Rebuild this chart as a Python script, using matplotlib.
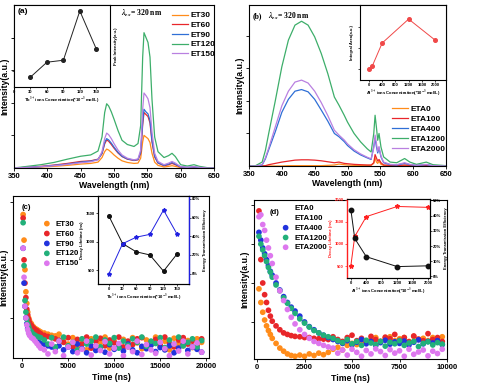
import numpy as np
import matplotlib.pyplot as plt

plt.rcParams['font.family'] = ['Liberation Sans', 'DejaVu Sans']
plt.rcParams['font.weight'] = 'bold'
plt.rcParams['axes.labelweight'] = 'bold'
plt.rcParams['mathtext.fontset'] = 'stix'

# ---------------- (a) emission spectra, Tb series ----------------
wl_a = [350, 370, 390, 410, 430, 450, 465, 476, 482, 486, 489, 492, 496, 500, 506, 512,
        520, 530, 536, 540, 543, 545, 548, 551, 554, 557, 561, 566, 575, 582, 587, 592,
        600, 610, 620, 628, 640, 650]
et30 = [0, 0.01, 0.03, 0.05, 0.08, 0.12, 0.14, 0.18, 0.32, 0.50, 0.58, 0.55, 0.48, 0.40, 0.30, 0.22,
        0.17, 0.14, 0.15, 0.30, 0.80, 1.00, 0.95, 0.90, 0.78, 0.45, 0.18, 0.08, 0.03, 0.05, 0.07, 0.05,
        0.01, 0, 0.01, 0, 0, 0]
et60 = [0, 0.02, 0.05, 0.09, 0.14, 0.20, 0.22, 0.27, 0.44, 0.74, 0.86, 0.82, 0.72, 0.61, 0.46, 0.35,
        0.27, 0.23, 0.25, 0.45, 1.32, 1.70, 1.64, 1.58, 1.38, 0.80, 0.34, 0.15, 0.07, 0.10, 0.14, 0.10,
        0.03, 0.01, 0.02, 0.01, 0, 0]
et90 = [0, 0.02, 0.04, 0.08, 0.12, 0.18, 0.21, 0.26, 0.45, 0.78, 0.90, 0.86, 0.76, 0.64, 0.48, 0.36,
        0.28, 0.24, 0.26, 0.48, 1.40, 1.80, 1.72, 1.66, 1.45, 0.85, 0.36, 0.16, 0.08, 0.12, 0.17, 0.12,
        0.03, 0.02, 0.03, 0.01, 0, 0]
et120 = [0, 0.05, 0.10, 0.17, 0.27, 0.36, 0.40, 0.52, 0.95, 1.70, 1.97, 1.90, 1.72, 1.50, 1.15, 0.85,
         0.72, 0.66, 0.75, 1.30, 3.40, 4.15, 4.00, 3.85, 3.40, 2.10, 0.95, 0.50, 0.32, 0.38, 0.45, 0.35,
         0.10, 0.06, 0.10, 0.05, 0.01, 0]
et150 = [0, 0.02, 0.04, 0.07, 0.11, 0.16, 0.19, 0.25, 0.50, 0.90, 1.07, 1.02, 0.90, 0.75, 0.55, 0.40,
         0.30, 0.25, 0.28, 0.55, 1.80, 2.30, 2.22, 2.12, 1.85, 1.10, 0.45, 0.20, 0.10, 0.15, 0.20, 0.15,
         0.04, 0.02, 0.04, 0.02, 0, 0]
labels_a = ['ET30', 'ET60', 'ET90', 'ET120', 'ET150']
tb_conc = [30, 60, 90, 120, 150]
tb_peak = [0.82, 1.27, 1.33, 2.82, 1.67]

# ---------------- (b) emission spectra, Al series ----------------
wl_b = [350, 360, 370, 375, 380, 390, 400, 410, 420, 430, 440, 450, 460, 470, 480, 487, 495,
        500, 510, 520, 530, 536, 540, 542, 544, 546, 548, 551, 555, 565, 575, 587, 595, 605,
        620, 630, 650]
eta0 = [0, 0, 0, 0, 0, 0, 0, 0.01, 0.01, 0.01, 0.01, 0.01, 0.01, 0.02, 0.03, 0.06, 0.04,
        0.03, 0.02, 0.02, 0.02, 0.02, 0.08, 0.25, 0.12, 0.08, 0.15, 0.05, 0.02, 0.01, 0.01, 0.02, 0.01, 0,
        0.01, 0, 0]
eta100 = [0, 0, 0, 0.01, 0.04, 0.08, 0.12, 0.15, 0.18, 0.19, 0.19, 0.18, 0.16, 0.13, 0.10, 0.12, 0.08,
          0.07, 0.05, 0.04, 0.03, 0.03, 0.10, 0.35, 0.25, 0.15, 0.20, 0.10, 0.03, 0.02, 0.01, 0.03, 0.02, 0.01,
          0.02, 0, 0]
eta400 = [0, 0, 0.03, 0.22, 0.50, 1.05, 1.65, 2.05, 2.30, 2.35, 2.28, 2.05, 1.72, 1.38, 1.00, 0.90, 0.75,
          0.63, 0.46, 0.34, 0.25, 0.20, 0.60, 0.85, 0.60, 0.40, 0.55, 0.28, 0.10, 0.04, 0.03, 0.08, 0.04, 0.02,
          0.04, 0.01, 0]
eta1200 = [0, 0.01, 0.12, 0.48, 1.00, 2.00, 3.05, 3.87, 4.33, 4.45, 4.33, 3.97, 3.46, 2.84, 2.12, 1.87, 1.56,
           1.35, 1.00, 0.74, 0.53, 0.43, 1.00, 1.56, 1.20, 0.79, 1.00, 0.58, 0.28, 0.12, 0.10, 0.23, 0.12, 0.05,
           0.12, 0.04, 0.01]
eta2000 = [0, 0, 0.04, 0.25, 0.55, 1.20, 1.85, 2.30, 2.58, 2.64, 2.55, 2.30, 1.95, 1.55, 1.10, 0.95, 0.80,
           0.68, 0.50, 0.37, 0.27, 0.22, 0.55, 0.95, 0.70, 0.45, 0.60, 0.30, 0.12, 0.05, 0.04, 0.10, 0.05, 0.02,
           0.05, 0.01, 0]
labels_b = ['ETA0', 'ETA100', 'ETA400', 'ETA1200', 'ETA2000']
al_conc = [0, 100, 400, 1200, 2000]
al_area = [1.0, 1.14, 2.24, 3.38, 2.38]

# ---------------- (c) decay curves, Tb series ----------------
t_c = [100, 200, 300, 400, 500, 600, 700, 800, 1000, 1200, 1400, 1600, 1800, 2000,
       2400, 2800, 3200, 3600, 4000, 4500, 5000, 5500, 6000, 6500, 7000, 7500, 8000,
       8500, 9000, 9500, 10000, 10500, 11000, 11500, 12000, 12500, 13000, 13500, 14000,
       14500, 15000, 15500, 16000, 16500, 17000, 17500, 18000, 18500, 19000, 19500]
dc_et30 = [2.78, 2.34, 1.83, 1.45, 1.25, 1.10, 1.00, 0.95, 0.90, 0.85, 0.82, 0.80, 0.78, 0.76,
           0.74, 0.72, 0.70, 0.69, 0.72, 0.62, 0.55, 0.66, 0.50, 0.60, 0.45, 0.64, 0.52,
           0.58, 0.67, 0.48, 0.60, 0.55, 0.63, 0.50, 0.66, 0.57, 0.47, 0.62, 0.54,
           0.67, 0.50, 0.60, 0.45, 0.65, 0.56, 0.52, 0.61, 0.49, 0.64, 0.58]
dc_et60 = [2.72, 2.00, 1.60, 1.35, 1.15, 1.05, 0.98, 0.92, 0.87, 0.83, 0.80, 0.78, 0.75, 0.73,
           0.70, 0.68, 0.66, 0.64, 0.62, 0.58, 0.66, 0.50, 0.63, 0.55, 0.67, 0.48, 0.60,
           0.65, 0.52, 0.62, 0.57, 0.67, 0.50, 0.60, 0.54, 0.64, 0.66, 0.49, 0.58,
           0.63, 0.53, 0.67, 0.56, 0.50, 0.62, 0.66, 0.55, 0.60, 0.52, 0.64]
dc_et90 = [2.20, 1.60, 1.20, 1.00, 0.90, 0.82, 0.77, 0.72, 0.68, 0.65, 0.62, 0.60, 0.58, 0.56,
           0.55, 0.52, 0.50, 0.48, 0.52, 0.45, 0.50, 0.42, 0.55, 0.47, 0.40, 0.52, 0.44,
           0.49, 0.41, 0.54, 0.46, 0.50, 0.43, 0.55, 0.45, 0.40, 0.51, 0.47, 0.53,
           0.42, 0.49, 0.45, 0.52, 0.40, 0.48, 0.54, 0.44, 0.50, 0.46, 0.41]
dc_et120 = [2.64, 1.90, 1.30, 1.10, 0.98, 0.90, 0.85, 0.80, 0.76, 0.72, 0.70, 0.68, 0.67, 0.66,
            0.62, 0.55, 0.66, 0.50, 0.60, 0.67, 0.52, 0.58, 0.45, 0.64, 0.55, 0.60, 0.67,
            0.50, 0.62, 0.56, 0.66, 0.48, 0.60, 0.53, 0.64, 0.58, 0.67, 0.51, 0.60,
            0.56, 0.66, 0.49, 0.62, 0.55, 0.67, 0.52, 0.58, 0.64, 0.50, 0.61]
dc_et150 = [2.20, 1.70, 1.20, 1.00, 0.88, 0.80, 0.74, 0.70, 0.66, 0.64, 0.60, 0.56, 0.52, 0.48,
            0.45, 0.38, 0.55, 0.42, 0.60, 0.35, 0.50, 0.58, 0.40, 0.46, 0.60, 0.36, 0.52,
            0.44, 0.59, 0.38, 0.48, 0.56, 0.35, 0.50, 0.42, 0.60, 0.37, 0.54, 0.45,
            0.39, 0.58, 0.47, 0.35, 0.55, 0.43, 0.60, 0.38, 0.50, 0.57, 0.41]
tb_conc_c = [0, 30, 60, 90, 120, 150]
tb_life = [1447, 965, 820, 765, 480, 785]
tb_eff = [0, 32, 39, 42, 68, 42]

# ---------------- (d) decay curves, Al series ----------------
t_d = [100, 200, 300, 400, 500, 600, 700, 800, 1000, 1200, 1400, 1600, 1800, 2000,
       2250, 2500, 2750, 3000, 3250, 3500, 3750, 4000, 4250, 4500, 4750, 5000, 5250,
       5500, 5750, 6000, 6250, 6500, 6750, 7000, 7250, 7500, 7750, 8000, 8250, 8500,
       8750, 9000, 9250, 9500, 9750]
dd_eta0 = [1.85, 1.50, 1.25, 1.05, 0.90, 0.78, 0.68, 0.58, 0.45, 0.33, 0.25, 0.18, 0.14, 0.12,
           0.15, 0.12, 0.18, 0.14, 0.20, 0.16, 0.22, 0.30, 0.35, 0.28, 0.40, 0.45, 0.42,
           0.50, 0.48, 0.55, 0.60, 0.50, 0.58, 0.62, 0.52, 0.57, 0.60, 0.50, 0.63, 0.55,
           0.58, 0.52, 0.60, 0.56, 0.62]
dd_eta100 = [3.85, 2.60, 2.00, 1.70, 1.50, 1.30, 1.15, 1.02, 0.90, 0.80, 0.72, 0.68, 0.65, 0.63,
             0.62, 0.60, 0.60, 0.58, 0.57, 0.56, 0.55, 0.62, 0.55, 0.50, 0.60, 0.66, 0.52,
             0.58, 0.48, 0.63, 0.55, 0.50, 0.61, 0.57, 0.68, 0.53, 0.60, 0.49, 0.64, 0.56,
             0.52, 0.70, 0.55, 0.60, 0.50]
dd_eta400 = [3.30, 3.10, 2.90, 2.75, 2.60, 2.45, 2.30, 2.20, 2.00, 1.82, 1.65, 1.50, 1.38, 1.28,
             1.15, 1.00, 0.88, 0.80, 0.72, 0.66, 0.60, 0.55, 0.50, 0.45, 0.52, 0.42, 0.48,
             0.55, 0.44, 0.50, 0.40, 0.47, 0.53, 0.43, 0.49, 0.45, 0.51, 0.41, 0.48, 0.54,
             0.44, 0.50, 0.46, 0.52, 0.42]
dd_eta1200 = [3.20, 3.00, 2.85, 2.70, 2.55, 2.40, 2.28, 2.15, 1.95, 1.80, 1.62, 1.48, 1.35, 1.22,
              1.08, 0.97, 0.87, 0.78, 0.72, 0.66, 0.62, 0.58, 0.52, 0.47, 0.55, 0.44, 0.50,
              0.40, 0.53, 0.46, 0.42, 0.50, 0.38, 0.48, 0.44, 0.52, 0.40, 0.46, 0.50, 0.37,
              0.45, 0.49, 0.41, 0.47, 0.43]
dd_eta2000 = [3.70, 3.75, 3.50, 3.35, 3.10, 2.90, 2.70, 2.50, 2.15, 1.80, 1.55, 1.32, 1.12, 0.95,
              0.80, 0.68, 0.58, 0.50, 0.45, 0.40, 0.36, 0.33, 0.20, 0.28, 0.15, 0.30, 0.22,
              0.12, 0.27, 0.18, 0.31, 0.24, 0.14, 0.29, 0.20, 0.26, 0.12, 0.30, 0.17, 0.23,
              0.28, 0.13, 0.25, 0.19, 0.30]
al_life = [510, 1170, 1620, 1850, 1830]
al_eff = [44, 25, 13, 6.5, 7]

line_colors = ['#FF8C1A', '#E8262A', '#2F6FD6', '#3DAE6A', '#B980E0']
dot_colors = ['#FF8C1A', '#E8262A', '#2233DD', '#22B07A', '#DD77EE']

fig = plt.figure(figsize=(5, 3.83), dpi=100)

tick_kw = dict(labelsize=5.5, length=2, width=0.6, pad=1.5)
ins_kw = dict(labelsize=3.0, length=1.3, width=0.5, pad=0.8)


def style_main(ax):
    for s in ax.spines.values():
        s.set_linewidth(0.8)
    ax.tick_params(**tick_kw)
    ax.set_yticklabels([])


def style_inset(ax):
    for s in ax.spines.values():
        s.set_linewidth(0.8)
    ax.tick_params(**ins_kw)


# ---- (a)
ax = fig.add_axes([0.028, 0.5614, 0.4, 0.4256])
for y, c, lab in zip([et30, et60, et90, et120, et150], line_colors, labels_a):
    ax.plot(wl_a, y, color=c, lw=0.9, label=lab)
ax.set_xlim(350, 650)
ax.set_ylim(0, 5)
ax.set_xticks(range(350, 651, 50))
ax.set_yticks([1, 2, 3, 4])
style_main(ax)
ax.set_xlabel('Wavelength (nm)', fontsize=6.3, labelpad=1)
ax.set_ylabel('Intensity(a.u.)', fontsize=6.3, labelpad=0)
ax.text(0.535, 0.95, r'$\lambda_{ex}$= 320 nm', transform=ax.transAxes, fontsize=5.5,
        family='Liberation Serif', weight='bold', va='center')
ax.legend(loc='upper left', bbox_to_anchor=(0.755, 1.0), frameon=False, fontsize=6,
          handlelength=2.0, handletextpad=0.3, labelspacing=0.22, borderpad=0.3)

ins = fig.add_axes([0.028, 0.7728, 0.192, 0.2141])
ins.plot(tb_conc, tb_peak, color='#222222', lw=0.7, marker='o', ms=2.6)
ins.set_xlim(0, 175)
ins.set_ylim(0.52, 3.0)
ins.set_xticks([0, 30, 60, 90, 120, 150])
ins.set_yticks([1, 2])
ins.set_yticklabels([])
style_inset(ins)
ins.yaxis.set_label_position('right')
ins.set_ylabel('Peak Intensity(a.u.)', fontsize=3.0, labelpad=3)
ins.set_xlabel(r'Tb$^{3+}$ ions Concentration(*10$^{-3}$ mol/L)', fontsize=3.0, labelpad=1)
ins.text(0.04, 0.92, '(a)', transform=ins.transAxes, fontsize=6, va='center')

# ---- (b)
ax = fig.add_axes([0.498, 0.5666, 0.394, 0.4204])
for y, c, lab in zip([eta0, eta100, eta400, eta1200, eta2000], line_colors, labels_b):
    ax.plot(wl_b, y, color=c, lw=0.9, label=lab)
ax.set_xlim(350, 650)
ax.set_ylim(0, 4.95)
ax.set_xticks(range(350, 651, 50))
ax.set_yticks([1, 2, 3, 4])
style_main(ax)
ax.set_xlabel('Wavelength (nm)', fontsize=6.3, labelpad=1)
ax.set_ylabel('Intensity(a.u.)', fontsize=6.3, labelpad=0)
ax.text(0.02, 0.93, '(b)', transform=ax.transAxes, fontsize=5.5,
        family='Liberation Serif', weight='bold', va='center')
ax.text(0.095, 0.93, r'$\lambda_{ex}$= 320 nm', transform=ax.transAxes, fontsize=5.5,
        family='Liberation Serif', weight='bold', va='center')
ax.legend(loc='upper left', bbox_to_anchor=(0.69, 0.42), frameon=False, fontsize=6,
          handlelength=2.0, handletextpad=0.3, labelspacing=0.25, borderpad=0.3)

ins = fig.add_axes([0.72, 0.7911, 0.172, 0.1958])
ins.plot(al_conc, al_area, color='#F04848', lw=0.7, marker='o', ms=2.6)
ins.set_xlim(-270, 2330)
ins.set_ylim(0.48, 4.05)
ins.set_xticks([0, 400, 800, 1200, 1600, 2000])
ins.set_yticks([1, 2, 3])
ins.set_yticklabels([])
style_inset(ins)
ins.set_ylabel('Integral Area(a.u.)', fontsize=3.0, labelpad=2)
ins.set_xlabel(r'Al$^{3+}$ ions Concentration(*10$^{-3}$ mol/L)', fontsize=3.0, labelpad=1)

# ---- (c)
ax = fig.add_axes([0.026, 0.0653, 0.392, 0.423])
for y, c, lab in zip([dc_et30, dc_et60, dc_et90, dc_et120, dc_et150], dot_colors, labels_a):
    ax.scatter(t_c, y, s=17, color=c, edgecolors='none', label=lab)
ax.set_xlim(-1000, 20300)
ax.set_ylim(0.31, 3.1)
ax.set_xticks(range(0, 20001, 5000))
ax.set_yticks([1, 2, 3])
style_main(ax)
ax.set_xlabel('Time (ns)', fontsize=6.3, labelpad=2)
ax.set_ylabel('Intensity(a.u.)', fontsize=6.3, labelpad=0)
ax.text(0.045, 0.93, '(c)', transform=ax.transAxes, fontsize=5.5, va='center')
ax.legend(loc='upper left', bbox_to_anchor=(0.1, 0.89), frameon=False, fontsize=5.7,
          handletextpad=0.05, labelspacing=0.3, borderpad=0.3, scatterpoints=1)

ins = fig.add_axes([0.196, 0.2585, 0.182, 0.2298])
ins.plot(tb_conc_c, tb_life, color='#111111', lw=0.7, marker='o', ms=2.6)
ins.set_xlim(-24, 176)
ins.set_ylim(255, 1800)
ins.set_xticks([0, 30, 60, 90, 120, 150])
ins.set_yticks([500, 1000, 1500])
style_inset(ins)
ins.set_ylabel('Decay Lifetime (ns)', fontsize=3.0, labelpad=1.2)
ins.set_xlabel(r'Tb$^{3+}$ ions Concentration(*10$^{-3}$ mol/L)', fontsize=3.0, labelpad=1)
ins2 = ins.twinx()
ins2.plot(tb_conc_c, tb_eff, color='#2020E0', lw=0.7, marker='*', ms=3)
ins2.set_ylim(-11, 83)
ins2.set_yticks([0, 20, 40, 60, 80])
ins2.set_yticklabels(['0%', '20%', '40%', '60%', '80%'])
style_inset(ins2)
ins2.spines['right'].set_color('#2020E0')
ins2.spines['right'].set_linewidth(1.0)
ins2.set_ylabel('Energy Transmission Efficiency', fontsize=3.0, labelpad=2)

# ---- (d)
ax = fig.add_axes([0.508, 0.0627, 0.386, 0.4151])
for y, c, lab in zip([dd_eta0, dd_eta100, dd_eta400, dd_eta1200, dd_eta2000], dot_colors, labels_b):
    ax.scatter(t_d, y, s=17, color=c, edgecolors='none', label=lab)
ax.set_xlim(-160, 10000)
ax.set_ylim(0.05, 4.13)
ax.set_xticks(range(0, 10001, 2500))
ax.set_yticks([1, 2, 3, 4])
style_main(ax)
ax.set_xlabel('Time (ns)', fontsize=6.3, labelpad=2)
ax.set_ylabel('Intensity(a.u.)', fontsize=6.3, labelpad=0)
leg = ax.legend(loc='upper left', bbox_to_anchor=(0.09, 1.01), frameon=False, fontsize=5.7,
                handletextpad=0.1, labelspacing=0.28, borderpad=0.3, scatterpoints=1)
# the first two legend markers are hidden behind the panel tag in the original
for h in leg.legend_handles[:2]:
    h.set_visible(False)
ax.text(0.105, 0.92, '(d)', transform=ax.transAxes, fontsize=5.5, va='center', ha='center')

ins = fig.add_axes([0.694, 0.2742, 0.166, 0.2063])
ins.plot(al_conc, al_life, color='#FF2020', lw=0.7, marker='*', ms=3.2)
ins.set_xlim(-100, 2050)
ins.set_ylim(230, 2020)
ins.set_xticks([0, 400, 800, 1200, 1600, 2000])
ins.set_yticks([500, 1000, 1500, 2000])
style_inset(ins)
ins.spines['left'].set_color('#FF2020')
ins.spines['left'].set_linewidth(1.0)
ins.tick_params(axis='y', colors='#FF2020')
ins.set_ylabel('Decay Lifetime (ns)', fontsize=3.0, labelpad=1.2, color='#FF2020')
ins.set_xlabel(r'Al$^{3+}$ ions Concentration(*10$^{-3}$ mol/L)', fontsize=3.0, labelpad=1)
ins2 = ins.twinx()
ins2.plot(al_conc, al_eff, color='#111111', lw=0.7, marker='o', ms=3.2)
ins2.set_ylim(-1, 51)
ins2.set_yticks([0, 10, 20, 30, 40, 50])
ins2.set_yticklabels(['0%', '10%', '20%', '30%', '40%', '50%'])
style_inset(ins2)
ins2.spines['left'].set_visible(False)
ins2.set_ylabel('Energy Transmission Efficiency', fontsize=3.0, labelpad=2)

fig.savefig('out.png', dpi=100)
